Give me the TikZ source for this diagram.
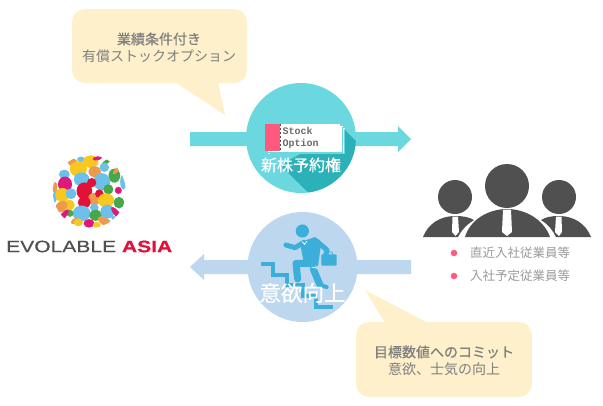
\documentclass[tikz,border=0pt]{standalone}
\usepackage{fontspec}
\setmainfont{Liberation Sans}
\newfontfamily\cjk{Noto Sans CJK JP}
\newfontfamily\cjkb[FakeBold=0.6]{Noto Sans CJK JP}
\newfontfamily\logofont[FakeBold=0.5]{Liberation Sans}
\newfontfamily\stockfont{Liberation Mono}
\definecolor{teal1}{HTML}{6AD8DE}
\definecolor{teal2}{HTML}{2DB1B8}
\definecolor{blue1}{HTML}{BDD7EE}
\definecolor{blue2}{HTML}{3BAFD9}
\definecolor{cream}{HTML}{FFF0CC}
\definecolor{txtgray}{HTML}{7F7F7F}
\definecolor{ltgray}{HTML}{9A9A9A}
\definecolor{darkp}{HTML}{505050}
\definecolor{stockgray}{HTML}{6A6A6A}
\definecolor{pinkc}{HTML}{FF5A7E}
\definecolor{lsky}{HTML}{6CC0EA}
\definecolor{lyel}{HTML}{F7C81E}
\definecolor{lora}{HTML}{EE9A4D}
\definecolor{lgre}{HTML}{45A84A}
\definecolor{lmag}{HTML}{E0187C}
\definecolor{lred}{HTML}{E3103A}
\tikzset{
  calltext/.style={text=txtgray,align=center,font=\cjk\fontsize{14}{17}\selectfont,inner sep=0pt},
  circlelabel/.style={text=white,inner sep=0pt},
  listtext/.style={text=ltgray,anchor=west,inner sep=0pt,font=\cjk\fontsize{12.5}{13}\selectfont},
  bulletdot/.style={circle,fill=pinkc,inner sep=0pt,minimum size=6.5pt},
  stocktext/.style={text=stockgray,anchor=west,inner sep=0pt,font=\stockfont\bfseries\fontsize{10}{10}\selectfont},
  limb/.style={draw=blue2,line cap=round,line join=round},
}
\begin{document}
\begin{tikzpicture}[x=1pt,y=-1pt]
\useasboundingbox (0,0) rectangle (603,405);
\fill[white] (0,0) rectangle (603,405);

% top callout
\fill[cream,rounded corners=13pt] (72,9) rectangle (247,83);
\fill[cream] (175,82) -- (225,115) -- (218,82) -- cycle;
\node[calltext] (c1) at (159,47.5) {{\cjkb 業績条件付き}\\有償ストックオプション};

% top arrow
\fill[teal1] (190,132) -- (398,132) -- (398,126) -- (411,139) -- (398,152) -- (398,146) -- (190,146) -- cycle;
% top circle
\fill[teal1] (301,138) circle (55);
\begin{scope}
\clip (301,138) circle (55);
\fill[teal2] (345,130) -- (370,155) -- (370,200) -- (316,200) -- (280,165) -- cycle;
\end{scope}
% cards
\fill[white] (268,128) rectangle (345,154);
\draw[teal1,line width=0.6pt] (270,153) -- (344,153) -- (344,129);
\fill[white] (268,126) rectangle (342.5,152.5);
\draw[teal1,line width=0.6pt] (268,152) -- (342,152) -- (342,127);
\fill[white] (280,124) rectangle (340,151);
\fill[pinkc] (265,124) rectangle (280,151);
\draw[darkp,line width=0.6pt,dash pattern=on 2pt off 2pt] (280,124) -- (280,151);
\node[stocktext] (s1) at (282.5,130.5) {Stock};
\node[stocktext] (s2) at (282.5,144) {Option};
\node[circlelabel,font=\cjkb\fontsize{16}{16}\selectfont] (t1) at (301,165) {新株予約権};

% bottom arrow
\fill[blue1] (411,260) -- (204,260) -- (204,254) -- (190,267) -- (204,280) -- (204,274) -- (411,274) -- cycle;
% bottom circle
\fill[blue1] (302.5,267) circle (55);
% stairs and runner
\begin{scope}[shift={(180,205)},x=0.3333pt,y=-0.3333pt]
\draw[blue2,line width=4pt,line join=miter] (243,176) -- (278,176) -- (278,209) -- (322,209) -- (322,240) -- (370,240) -- (370,272) -- (408,272) -- (408,306) -- (460,306);
\fill[blue2] (367,78) circle (6.6pt);
\draw[limb,line width=5pt] (318,120) -- (345,128) -- (372,112);
\fill[blue2] (360,112) -- (405,96) -- (424,112) -- (414,184) -- (370,167) -- cycle;
\draw[limb,line width=5pt] (410,108) -- (442,136) -- (436,152);
\fill[blue2,rounded corners=1pt] (424,148) rectangle (470,182);
\draw[blue2,line width=0.8pt] (436,148) -- (438,141) -- (456,141) -- (458,148);
\draw[limb,line width=7pt] (398,175) -- (348,175) -- (353,222);
\draw[limb,line width=7pt] (400,192) -- (420,240);
\draw[limb,line width=4pt] (420,240) -- (440,246);
\draw[white,line width=0.7pt] (366,110) -- (374,118) -- (381,108);
\draw[white,line width=0.7pt] (395,186) -- (412,190);
\end{scope}
\node[circlelabel,font=\cjkb\fontsize{21.5}{21.5}\selectfont] (t2) at (302.5,293) {意欲向上};

% bottom callout
\fill[cream,rounded corners=13pt] (356,322) rectangle (532,397);
\fill[cream] (385,323) -- (365,290) -- (428,323) -- cycle;
\node[calltext] (c2) at (444,360.5) {{\cjkb 目標数値へのコミット}\\意欲、士気の向上};

% logo
\begin{scope}[shift={(0,145)},x=0.3333pt,y=-0.3333pt]
\clip (268,140) circle (36.5pt);
\foreach \cx/\cy/\rx/\ry/\rot/\col in {
 218/52/15/10/-30/lora, 243/43/10/7/0/lsky, 272/50/20/16/0/lyel, 292/40/12/5/10/lmag,
 320/50/14/5/30/lgre, 313/67/12/12/0/lsky, 235/72/22/20/0/lyel, 284/80/16/14/0/lora,
 343/92/15/18/0/lgre, 193/88/14/12/0/lsky, 350/75/14/5/50/lora, 305/110/22/22/0/lsky,
 245/103/20/18/0/lsky, 195/118/18/20/0/lmag, 275/113/12/12/0/lred, 253/138/20/22/0/lred,
 325/133/13/13/0/lgre, 355/136/9/9/0/lmag, 370/110/8/20/0/lsky, 165/128/6/15/0/lora,
 165/155/5/15/0/lsky, 187/150/18/18/0/lyel, 213/146/14/14/0/lsky, 283/162/16/16/0/lora,
 298/146/11/11/0/lred, 318/166/21/18/0/lyel, 253/172/16/15/0/lred, 357/173/13/15/0/lgre,
 208/180/14/14/0/lyel, 184/185/17/13/40/lora, 283/188/11/10/0/lsky, 245/205/23/20/0/lsky,
 287/211/16/14/0/lgre, 322/200/18/18/0/lsky, 210/205/9/9/0/lgre, 190/212/20/7/50/lmag,
 350/205/20/7/-50/lmag, 223/228/10/6/40/lora, 235/232/12/10/0/lyel, 267/235/14/11/0/lmag,
 290/240/10/8/0/lyel, 315/230/20/10/-30/lora, 345/222/12/6/-40/lsky}
 {\fill[\col,rotate around={\rot:(\cx,\cy)}] (\cx,\cy) ellipse ({\rx*0.39pt} and {\ry*0.39pt});}
\end{scope}
\node[anchor=west,inner sep=0pt] (logo) at (6,246.5) {\resizebox{166pt}{11.5pt}{\logofont\textcolor{darkp}{EVOLABLE} \textcolor{lred}{\textbf{ASIA}}}};

% people
\fill[darkp] (507,186) circle (22);
\fill[darkp] (455,197) circle (17);
\fill[darkp] (559,197) circle (17);
\fill[darkp] (423,237) .. controls (428,224) and (440,216) .. (455,216) .. controls (463,216) and (469,217) .. (474,220) .. controls (466,225) and (461,231) .. (458,237) -- cycle;
\fill[darkp] (591,237) .. controls (586,224) and (574,216) .. (559,216) .. controls (551,216) and (546,217) .. (541,220) .. controls (549,225) and (553,231) .. (556,237) -- cycle;
\fill[darkp] (465,237) .. controls (470,220) and (488,209) .. (507,209) .. controls (526,209) and (544,220) .. (550,237) -- cycle;
\fill[white] (503,209.5) -- (511,209.5) -- (512,232) -- (507,236) -- (502,232) -- cycle;
\fill[white] (452.5,216.5) -- (458,216.5) -- (459,232) -- (455.5,236) -- (452,232) -- cycle;
\fill[white] (556,216.5) -- (561.5,216.5) -- (562,232) -- (559,236) -- (555,232) -- cycle;
\node[bulletdot] (b1) at (454,253) {};
\node[bulletdot] (b2) at (454,276) {};
\node[listtext] (l1) at (470,253) {直近入社従業員等};
\node[listtext] (l2) at (470,275.5) {入社予定従業員等};
\end{tikzpicture}
\end{document}
